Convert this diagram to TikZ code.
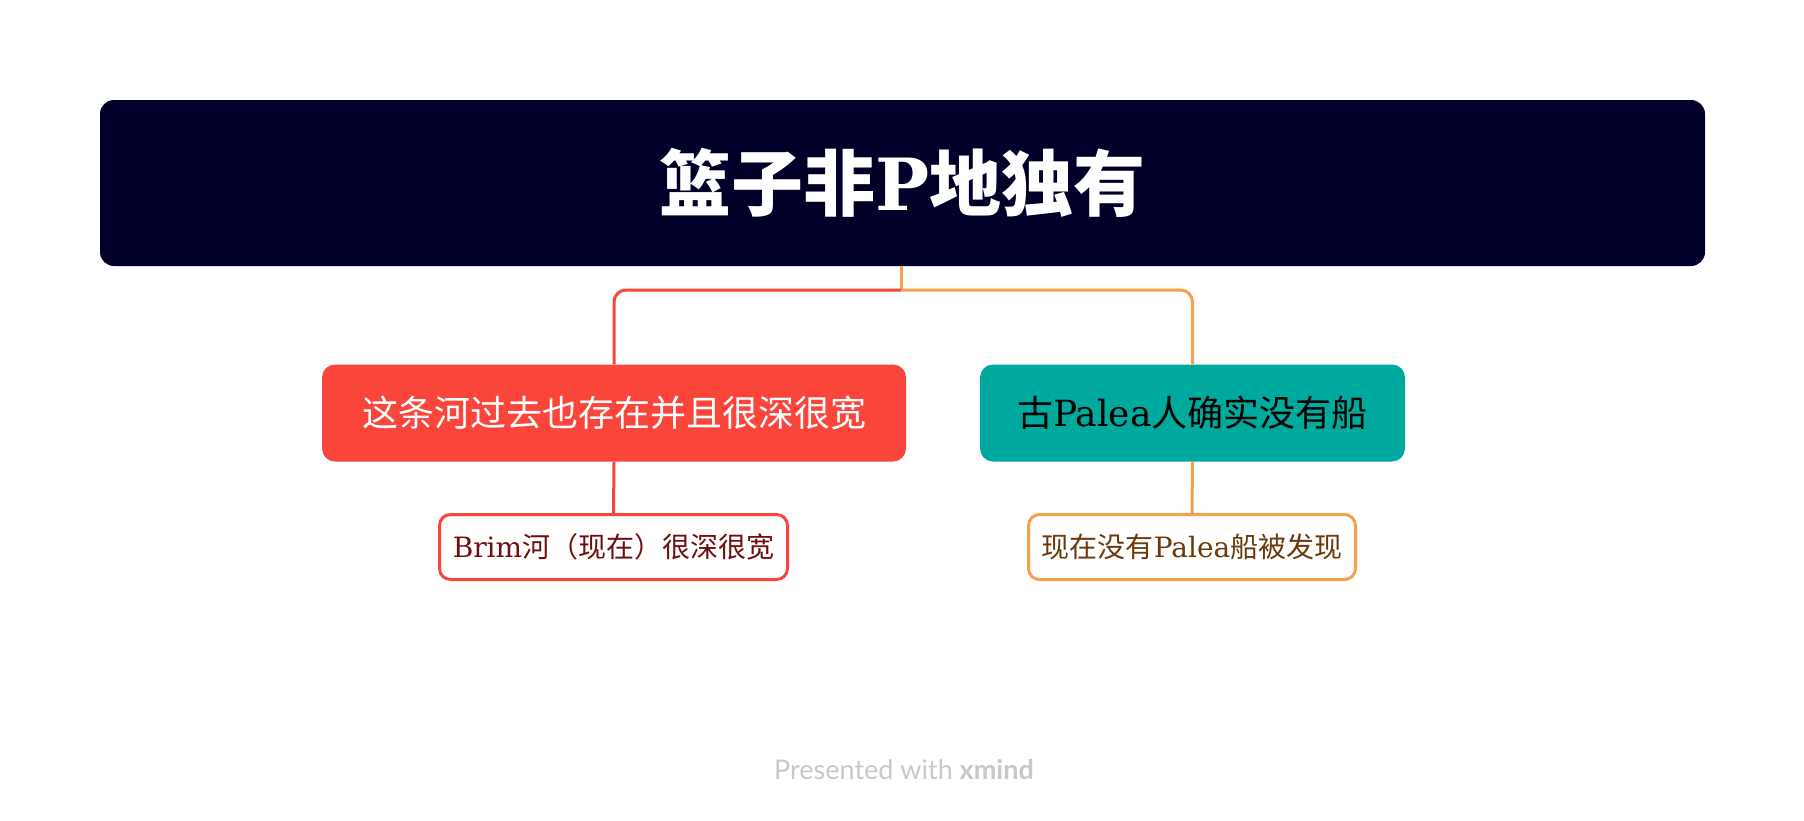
\documentclass[tikz,border=0pt]{standalone}
\usepackage{fontspec}
\setmainfont{DejaVu Serif}
\newfontfamily\cjk{Noto Sans CJK SC}
\newfontfamily\footfont{Lato}
\definecolor{navy}{HTML}{000028}
\definecolor{redc}{HTML}{FA453B}
\definecolor{tealc}{HTML}{00A99D}
\definecolor{orangec}{HTML}{F7A04B}
\definecolor{darkred}{HTML}{6E0F0F}
\definecolor{brownc}{HTML}{6A3A0C}
\definecolor{footgray}{HTML}{C8C8C8}
\tikzset{
  titlebox/.style={fill=navy, rounded corners=14pt, minimum width=1605pt, minimum height=166pt, inner sep=0pt, text=white, font=\fontsize{72}{78}\selectfont},
  mainbox/.style={rounded corners=13pt, minimum height=97pt, inner sep=0pt, font=\fontsize{36}{40}\selectfont},
  subbox/.style={draw, line width=3pt, fill=white, rounded corners=11pt, minimum height=65pt, inner sep=0pt, font=\fontsize{28}{32}\selectfont},
  conn/.style={line width=3pt, rounded corners=12pt},
}
\begin{document}
\begin{tikzpicture}[x=1pt,y=-1pt]
\useasboundingbox[fill=white] (0,0) rectangle (1804,820);
\node[titlebox] (title) at (902.5,183) {{\cjk\bfseries 篮子非}{\bfseries P}{\cjk\bfseries 地独有}};
\node[mainbox, fill=redc, text=white, minimum width=584pt] (n1) at (614,413) {\cjk 这条河过去也存在并且很深很宽};
\node[mainbox, fill=tealc, text=black, minimum width=425pt] (n2) at (1192.5,413) {{\cjk 古}Palea{\cjk 人确实没有船}};
\node[subbox, draw=redc, text=darkred, minimum width=348pt] (s1) at (613.5,547) {Brim{\cjk 河（现在）很深很宽}};
\node[subbox, draw=orangec, text=brownc, minimum width=327pt] (s2) at (1192,547) {{\cjk 现在没有}Palea{\cjk 船被发现}};
\coordinate (trunk) at (901,290);
\draw[conn, orangec] (title.south -| trunk) -- (trunk);
\draw[conn, redc] (trunk) -| (n1.north);
\draw[conn, orangec] (trunk) -| (n2.north);
\draw[conn, redc] (n1.south) -- (s1.north);
\draw[conn, orangec] (n2.south) -- (s2.north);
\node[text=footgray, font=\footfont\fontsize{27}{30}\selectfont, inner sep=0pt] (foot) at (904,770) {Presented with \textbf{xmind}};
\end{tikzpicture}
\end{document}
